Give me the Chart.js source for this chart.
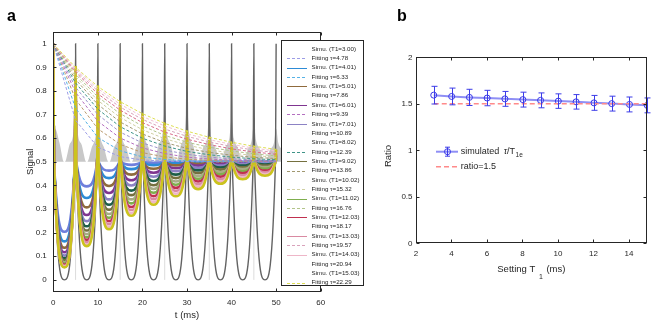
<!DOCTYPE html>
<html>
<head>
<meta charset="utf-8">
<script src="https://cdn.jsdelivr.net/npm/chart.js@4.4.0/dist/chart.umd.min.js"></script>
<style>
    html, body { margin: 0; padding: 0; background: #fff; }
    #wrap { position: relative; width: 664px; height: 335px; overflow: hidden; }
    #chartA { position: absolute; left: 0; top: 0; }
    #chartB { position: absolute; left: 370px; top: 0; }
</style>
</head>
<body>
<div id="wrap">
    <canvas id="chartA" width="370" height="335"></canvas>
    <canvas id="chartB" width="294" height="335"></canvas>
</div>
<script>
(function() {
    'use strict';

    // ---- panel a : signal vs time ----
    var t1Labels  = ['3.00', '4.01', '5.01', '6.01', '7.01', '8.02', '9.02', '10.02', '11.02', '12.03', '13.03', '14.03', '15.03'];
    var tauLabels = ['4.78', '6.33', '7.86', '9.39', '10.89', '12.39', '13.86', '15.32', '16.76', '18.17', '19.57', '20.94', '22.29'];

    // echo tops and the bottoms between them (ms)
    var peakTimes   = [0, 5, 10, 15, 20, 25, 30, 35, 40, 45, 50];
    var troughTimes = [2.5, 7.5, 12.5, 17.5, 22.5, 27.5, 32.5, 37.5, 42.5, 47.5];

    // signal at the echo tops, one row per T1
    var simuPeaks = [
        [1.000, 0.676, 0.562, 0.522, 0.508, 0.503, 0.501, 0.500, 0.500, 0.500, 0.500],
        [1.000, 0.727, 0.603, 0.547, 0.521, 0.510, 0.504, 0.502, 0.501, 0.500, 0.500],
        [1.000, 0.765, 0.640, 0.574, 0.539, 0.521, 0.511, 0.506, 0.503, 0.502, 0.501],
        [1.000, 0.794, 0.672, 0.601, 0.559, 0.535, 0.520, 0.512, 0.507, 0.504, 0.502],
        [1.000, 0.816, 0.700, 0.626, 0.580, 0.550, 0.532, 0.520, 0.513, 0.508, 0.505],
        [1.000, 0.834, 0.723, 0.649, 0.600, 0.567, 0.544, 0.530, 0.520, 0.513, 0.509],
        [1.000, 0.849, 0.743, 0.669, 0.618, 0.582, 0.557, 0.540, 0.528, 0.519, 0.514],
        [1.000, 0.861, 0.760, 0.688, 0.636, 0.598, 0.571, 0.551, 0.537, 0.527, 0.519],
        [1.000, 0.871, 0.775, 0.704, 0.652, 0.612, 0.583, 0.562, 0.546, 0.534, 0.525],
        [1.000, 0.880, 0.788, 0.719, 0.666, 0.626, 0.596, 0.573, 0.555, 0.542, 0.532],
        [1.000, 0.887, 0.800, 0.732, 0.680, 0.639, 0.608, 0.584, 0.565, 0.550, 0.539],
        [1.000, 0.894, 0.810, 0.744, 0.692, 0.652, 0.619, 0.594, 0.574, 0.558, 0.546],
        [1.000, 0.900, 0.819, 0.755, 0.704, 0.663, 0.630, 0.604, 0.583, 0.566, 0.553]
    ];

    // signal at the bottoms, one row per T1
    var simuTroughs = [
        [0.204, 0.396, 0.463, 0.487, 0.496, 0.499, 0.500, 0.500, 0.500, 0.500],
        [0.163, 0.347, 0.431, 0.469, 0.486, 0.494, 0.497, 0.499, 0.499, 0.500],
        [0.136, 0.307, 0.398, 0.446, 0.471, 0.485, 0.492, 0.496, 0.498, 0.499],
        [0.117, 0.275, 0.368, 0.422, 0.454, 0.473, 0.484, 0.491, 0.495, 0.497],
        [0.103, 0.249, 0.341, 0.400, 0.437, 0.460, 0.475, 0.484, 0.490, 0.494],
        [0.091, 0.227, 0.318, 0.378, 0.419, 0.446, 0.464, 0.476, 0.484, 0.489],
        [0.083, 0.209, 0.297, 0.359, 0.401, 0.431, 0.452, 0.467, 0.477, 0.484],
        [0.075, 0.194, 0.279, 0.341, 0.385, 0.417, 0.440, 0.457, 0.469, 0.478],
        [0.069, 0.180, 0.263, 0.324, 0.369, 0.403, 0.428, 0.447, 0.460, 0.471],
        [0.064, 0.169, 0.249, 0.309, 0.355, 0.390, 0.417, 0.437, 0.452, 0.463],
        [0.060, 0.159, 0.236, 0.296, 0.342, 0.377, 0.405, 0.426, 0.443, 0.456],
        [0.056, 0.150, 0.225, 0.283, 0.329, 0.365, 0.394, 0.416, 0.434, 0.448],
        [0.053, 0.143, 0.215, 0.272, 0.318, 0.354, 0.384, 0.407, 0.426, 0.441]
    ];

    // reference (no relaxation) curve
    var refPeaks   = [1, 1, 1, 1, 1, 1, 1, 1, 1, 1, 1];
    var refTroughs = [0, 0, 0, 0, 0, 0, 0, 0, 0, 0];

    // all curves pass the mid level this close to each echo top
    var MID_LEVEL = 0.5;
    var MID_GAP = 0.15;

    // light grey patches round the echo tops
    var grayT = [0.0, 0.4, 1.4, 2.4,
                 2.6, 3.6, 4.5, 5.0, 5.5, 6.4, 7.4,
                 7.6, 8.6, 9.5, 10.0, 10.5, 11.4, 12.4,
                 12.6, 13.6, 14.5, 15.0, 15.5, 16.4, 17.4,
                 17.6, 18.6, 19.5, 20.0, 20.5, 21.4, 22.4,
                 22.6, 23.6, 24.5, 25.0, 25.5, 26.4, 27.4,
                 27.6, 28.6, 29.5, 30.0, 30.5, 31.4, 32.4,
                 32.6, 33.6, 34.5, 35.0, 35.5, 36.4, 37.4,
                 37.6, 38.6, 39.5, 40.0, 40.5, 41.4, 42.4,
                 42.6, 43.6, 44.5, 45.0, 45.5, 46.4, 47.4,
                 47.6, 48.6, 49.5, 50.0, 50.5, 51.4, 52.4];
    var grayY = [0.50, 0.64, 0.58, 0.50,
                 0.50, 0.57, 0.62, 0.74, 0.62, 0.57, 0.50,
                 0.50, 0.56, 0.61, 0.70, 0.61, 0.56, 0.50,
                 0.50, 0.56, 0.60, 0.68, 0.60, 0.56, 0.50,
                 0.50, 0.56, 0.61, 0.70, 0.61, 0.56, 0.50,
                 0.50, 0.57, 0.62, 0.72, 0.62, 0.57, 0.50,
                 0.50, 0.57, 0.62, 0.74, 0.62, 0.57, 0.50,
                 0.50, 0.56, 0.60, 0.70, 0.60, 0.56, 0.50,
                 0.50, 0.56, 0.60, 0.68, 0.60, 0.56, 0.50,
                 0.50, 0.55, 0.59, 0.66, 0.59, 0.55, 0.50,
                 0.50, 0.55, 0.58, 0.64, 0.58, 0.55, 0.50];

    // thin light marks from the baseline
    var markTimes = [5, 15, 25, 35, 45];
    var markTop = 0.5;

    var xTicksA = [0, 10, 20, 30, 40, 50, 60];
    var xTickLabelsA = ['0', '10', '20', '30', '40', '50', '60'];
    var yTicksA = [0, 0.1, 0.2, 0.3, 0.4, 0.5, 0.6, 0.7, 0.8, 0.9, 1];
    var yTickLabelsA = ['0', '0.1', '0.2', '0.3', '0.4', '0.5', '0.6', '0.7', '0.8', '0.9', '1'];

    // legend rows that show a line sample
    var simuLegendLine = [false, true, true, true, true, false, true, false, true, true, true, true, false];
    var fitLegendLine  = [true, true, false, true, false, true, true, true, true, false, true, false, true];

    // ---- panel b : ratio vs T1 ----
    var t1Values    = [3.00, 4.01, 5.01, 6.01, 7.01, 8.02, 9.02, 10.02, 11.02, 12.03, 13.03, 14.03, 15.03];
    var ratioValues = [1.593, 1.579, 1.569, 1.562, 1.553, 1.545, 1.537, 1.529, 1.521, 1.510, 1.502, 1.493, 1.483];
    var ratioErrors = [0.095, 0.090, 0.087, 0.083, 0.080, 0.080, 0.080, 0.078, 0.078, 0.080, 0.080, 0.080, 0.080];
    var refRatioT = [3, 15];
    var refRatio  = 1.5;

    var xTicksB = [2, 4, 6, 8, 10, 12, 14];
    var xTickLabelsB = ['2', '4', '6', '8', '10', '12', '14'];
    var yTicksB = [0, 0.5, 1, 1.5, 2];
    var yTickLabelsB = ['0', '0.5', '1', '1.5', '2'];

    // ---- styles ----
    var FONT = '"Liberation Sans", Arial, Helvetica, sans-serif';
    var AXIS_COLOR = '#262626';
    var simuColors = ['#6f7fdc', '#2d8bd6', '#8f6a3c', '#7f3590', '#8c82c4', '#1d5e48', '#75703f',
                      '#a9ab86', '#7fae4e', '#c0304f', '#d98aa2', '#eeb6c8', '#cbc31e'];
    var fitColors  = ['#9c9ce6', '#56b2e6', '#b99a6e', '#b46fc0', '#9b92cc', '#3f9488', '#a19870',
                      '#cfcfa2', '#b2c48a', '#d86c8a', '#d9a2bb', '#f1c2d2', '#dede55'];

    Chart.defaults.font.family = FONT;
    Chart.defaults.color = AXIS_COLOR;

    // Build a curve: echo top, mid crossing, bottom, mid crossing, next top
    function echoCurve(peaks, troughs) {
        var pts = [];
        for (var k = 0; k < troughs.length; k++) {
            pts.push({x: peakTimes[k], y: peaks[k]});
            pts.push({x: peakTimes[k] + MID_GAP, y: MID_LEVEL});
            pts.push({x: troughTimes[k], y: troughs[k]});
            pts.push({x: peakTimes[k + 1] - MID_GAP, y: MID_LEVEL});
        }
        pts.push({x: peakTimes[peaks.length - 1], y: peaks[peaks.length - 1]});
        return pts;
    }

    function fitCurve(peaks) {
        return peaks.map(function(v, k) { return {x: peakTimes[k], y: v}; });
    }

    var datasetsA = [];

    datasetsA.push({
        label: 'patch',
        data: grayT.map(function(t, i) { return {x: t, y: grayY[i]}; }),
        borderWidth: 0,
        backgroundColor: '#c8c8c8',
        fill: {value: MID_LEVEL},
        cubicInterpolationMode: 'monotone',
        order: 100
    });

    var marks = [];
    markTimes.forEach(function(t) {
        marks.push({x: t, y: 0}, {x: t, y: markTop}, {x: t, y: null});
    });
    datasetsA.push({
        label: 'marks',
        data: marks,
        borderColor: '#dcdcdc',
        borderWidth: 1,
        fill: false,
        spanGaps: false,
        order: 90
    });

    datasetsA.push({
        label: 'reference',
        data: echoCurve(refPeaks, refTroughs),
        borderColor: '#636363',
        borderWidth: 1.4,
        fill: false,
        cubicInterpolationMode: 'monotone',
        order: 70
    });

    simuPeaks.forEach(function(peaks, i) {
        datasetsA.push({
            label: 'Simu. (T1=' + t1Labels[i] + ')',
            data: echoCurve(peaks, simuTroughs[i]),
            borderColor: simuColors[i],
            borderWidth: 2.6,
            fill: false,
            cubicInterpolationMode: 'monotone',
            legendLine: simuLegendLine[i],
            kind: 'simu',
            order: 60 - i
        });
        datasetsA.push({
            label: 'Fitting \u03c4=' + tauLabels[i],
            data: fitCurve(peaks),
            borderColor: fitColors[i],
            borderWidth: 1,
            borderDash: [3, 2],
            fill: false,
            tension: 0,
            legendLine: fitLegendLine[i],
            kind: 'fit',
            order: 30 - i
        });
    });

    // Box with inward ticks on all four sides
    function drawFrame(chart, tickLen) {
        var ctx = chart.ctx;
        var a = chart.chartArea;
        var l = Math.round(a.left) + 0.5, r = Math.round(a.right) - 0.5;
        var t = Math.round(a.top) + 0.5, b = Math.round(a.bottom) - 0.5;

        ctx.save();
        ctx.strokeStyle = AXIS_COLOR;
        ctx.lineWidth = 1;
        ctx.strokeRect(l, t, r - l, b - t);
        ctx.beginPath();
        chart.scales.x.ticks.forEach(function(tk) {
            var px = Math.round(chart.scales.x.getPixelForValue(tk.value)) + 0.5;
            ctx.moveTo(px, b); ctx.lineTo(px, b - tickLen);
            ctx.moveTo(px, t); ctx.lineTo(px, t + tickLen);
        });
        chart.scales.y.ticks.forEach(function(tk) {
            var py = Math.round(chart.scales.y.getPixelForValue(tk.value)) + 0.5;
            ctx.moveTo(l, py); ctx.lineTo(l + tickLen, py);
            ctx.moveTo(r, py); ctx.lineTo(r - tickLen, py);
        });
        ctx.stroke();
        ctx.restore();
    }

    function drawPanelLabel(ctx, text, x, y) {
        ctx.save();
        ctx.fillStyle = '#000';
        ctx.font = 'bold 16px ' + FONT;
        ctx.textBaseline = 'alphabetic';
        ctx.fillText(text, x, y);
        ctx.restore();
    }

    // MATLAB style legend box, overlapping the right edge of the axes
    function drawLegendA(chart) {
        var ctx = chart.ctx;
        var rows = chart.data.datasets.filter(function(ds) { return ds.kind; });
        var boxX = 281.5, boxY = 40.5, boxW = 82, boxH = 245;
        var firstRow = 49, rowStep = 9.35;

        ctx.save();
        ctx.fillStyle = '#fff';
        ctx.fillRect(boxX, boxY, boxW, boxH);
        ctx.strokeStyle = AXIS_COLOR;
        ctx.lineWidth = 1;
        ctx.strokeRect(boxX, boxY, boxW, boxH);

        ctx.font = '6.2px ' + FONT;
        ctx.textBaseline = 'middle';
        rows.forEach(function(ds, i) {
            var y = firstRow + i * rowStep;
            if (ds.legendLine) {
                ctx.strokeStyle = ds.borderColor;
                ctx.lineWidth = 1;
                ctx.setLineDash(ds.kind === 'fit' ? [3, 2] : []);
                ctx.beginPath();
                ctx.moveTo(287, Math.round(y) + 0.5);
                ctx.lineTo(307, Math.round(y) + 0.5);
                ctx.stroke();
            }
            ctx.setLineDash([]);
            ctx.fillStyle = AXIS_COLOR;
            ctx.fillText(ds.label, 311.5, y);
        });
        ctx.restore();
    }

    var framePluginA = {
        id: 'framePluginA',
        afterDraw: function(chart) {
            drawFrame(chart, 3);
            drawLegendA(chart);
            drawPanelLabel(chart.ctx, 'a', 7, 21);
        }
    };

    new Chart(document.getElementById('chartA'), {
        type: 'line',
        data: {datasets: datasetsA},
        options: {
            responsive: false,
            animation: false,
            devicePixelRatio: 1,
            layout: {padding: {left: 0, top: 32, right: 49.3, bottom: 0}},
            plugins: {legend: {display: false}, tooltip: {enabled: false}},
            elements: {point: {radius: 0}},
            scales: {
                x: {
                    type: 'linear', min: 0, max: 60,
                    border: {display: false},
                    grid: {display: false, drawTicks: false},
                    afterBuildTicks: function(s) { s.ticks = xTicksA.map(function(v) { return {value: v}; }); },
                    afterFit: function(s) { s.height = 43.3; },
                    ticks: {
                        padding: 6, font: {size: 8}, maxRotation: 0, autoSkip: false,
                        callback: function(v, i) { return xTickLabelsA[i]; }
                    },
                    title: {display: true, text: 't (ms)', font: {size: 9.5}, padding: {top: 0, bottom: 14.3}}
                },
                y: {
                    type: 'linear', min: -0.05, max: 1.05,
                    border: {display: false},
                    grid: {display: false, drawTicks: false},
                    afterBuildTicks: function(s) { s.ticks = yTicksA.map(function(v) { return {value: v}; }); },
                    afterFit: function(s) { s.width = 53.3; },
                    ticks: {
                        padding: 6.5, font: {size: 8}, autoSkip: false,
                        callback: function(v, i) { return yTickLabelsA[i]; }
                    },
                    title: {display: true, text: 'Signal', font: {size: 9.5}, padding: {top: 24.3, bottom: 0}}
                }
            }
        },
        plugins: [framePluginA]
    });

    // ---- panel b ----
    var ratioStyle = {line: '#8f8ff5', marker: '#3535e8', error: '#3c3ce8', ref: '#ff8a8a'};

    function drawErrorBars(chart) {
        var ctx = chart.ctx;
        var xs = chart.scales.x, ys = chart.scales.y;
        ctx.save();
        ctx.strokeStyle = ratioStyle.error;
        ctx.lineWidth = 1;
        ctx.beginPath();
        t1Values.forEach(function(t, i) {
            var px = Math.round(xs.getPixelForValue(t)) + 0.5;
            var top = ys.getPixelForValue(ratioValues[i] + ratioErrors[i]);
            var bot = ys.getPixelForValue(ratioValues[i] - ratioErrors[i]);
            ctx.moveTo(px, top); ctx.lineTo(px, bot);
            ctx.moveTo(px - 3, top); ctx.lineTo(px + 3, top);
            ctx.moveTo(px - 3, bot); ctx.lineTo(px + 3, bot);
        });
        ctx.stroke();
        ctx.restore();
    }

    function drawLegendB(chart) {
        var ctx = chart.ctx;
        var x0 = 66, x1 = 88, xm = 77, textX = 90.7;
        var y1 = 151.7, y2 = 166.7;

        ctx.save();
        // row 1: line, error bar and circle
        ctx.strokeStyle = ratioStyle.line;
        ctx.lineWidth = 2;
        ctx.beginPath(); ctx.moveTo(x0, y1); ctx.lineTo(x1, y1); ctx.stroke();
        ctx.strokeStyle = ratioStyle.error;
        ctx.lineWidth = 1;
        ctx.beginPath();
        ctx.moveTo(xm + 0.5, y1 - 4.5); ctx.lineTo(xm + 0.5, y1 + 4.5);
        ctx.moveTo(xm - 2, y1 - 4.5); ctx.lineTo(xm + 3, y1 - 4.5);
        ctx.moveTo(xm - 2, y1 + 4.5); ctx.lineTo(xm + 3, y1 + 4.5);
        ctx.stroke();
        ctx.strokeStyle = ratioStyle.marker;
        ctx.beginPath(); ctx.arc(xm + 0.5, y1, 3, 0, Math.PI * 2); ctx.stroke();

        ctx.fillStyle = AXIS_COLOR;
        ctx.textBaseline = 'middle';
        var x = textX;
        ctx.font = '9px ' + FONT;
        ctx.fillText('simulated ', x, y1);
        x += ctx.measureText('simulated ').width + 2;
        ctx.font = 'italic 9px ' + FONT;
        ctx.fillText('\u03c4', x, y1);
        x += ctx.measureText('\u03c4').width;
        ctx.font = '9px ' + FONT;
        ctx.fillText('/T', x, y1);
        x += ctx.measureText('/T').width + 0.5;
        ctx.font = '6.5px ' + FONT;
        ctx.fillText('1e', x, y1 + 4);

        // row 2: dashed reference
        ctx.strokeStyle = ratioStyle.ref;
        ctx.lineWidth = 1.5;
        ctx.setLineDash([5, 3]);
        ctx.beginPath(); ctx.moveTo(x0, y2); ctx.lineTo(x1, y2); ctx.stroke();
        ctx.setLineDash([]);
        ctx.font = '9px ' + FONT;
        ctx.fillText('ratio=1.5', textX, y2);
        ctx.restore();
    }

    function drawTitlesB(chart) {
        var ctx = chart.ctx;
        var a = chart.chartArea;
        ctx.save();
        ctx.fillStyle = AXIS_COLOR;
        ctx.textBaseline = 'alphabetic';

        var big = '9.5px ' + FONT, small = '7px ' + FONT;
        ctx.font = big;
        var w1 = ctx.measureText('Setting T ').width;
        var w3 = ctx.measureText(' (ms)').width;
        ctx.font = small;
        var w2 = ctx.measureText('1').width + 2;
        var x = (a.left + a.right) / 2 - (w1 + w2 + w3) / 2;
        ctx.font = big;
        ctx.fillText('Setting T ', x, 272);
        ctx.font = small;
        ctx.fillText('1', x + w1 + 1, 279);
        ctx.font = big;
        ctx.fillText(' (ms)', x + w1 + w2, 272);

        ctx.translate(18, 156);
        ctx.rotate(-Math.PI / 2);
        ctx.textAlign = 'center';
        ctx.textBaseline = 'middle';
        ctx.font = big;
        ctx.fillText('Ratio', 0, 0);
        ctx.restore();
    }

    var framePluginB = {
        id: 'framePluginB',
        afterDatasetsDraw: function(chart) {
            drawErrorBars(chart);
        },
        afterDraw: function(chart) {
            drawFrame(chart, 3);
            drawLegendB(chart);
            drawTitlesB(chart);
            drawPanelLabel(chart.ctx, 'b', 27, 21);
        }
    };

    new Chart(document.getElementById('chartB'), {
        type: 'line',
        data: {
            datasets: [{
                label: 'simulated \u03c4/T1e',
                data: t1Values.map(function(t, i) { return {x: t, y: ratioValues[i]}; }),
                borderColor: ratioStyle.line,
                borderWidth: 2,
                pointRadius: 3,
                pointBorderWidth: 1,
                pointBorderColor: ratioStyle.marker,
                pointBackgroundColor: 'rgba(0,0,0,0)',
                fill: false,
                tension: 0,
                order: 2
            }, {
                label: 'ratio=1.5',
                data: refRatioT.map(function(t) { return {x: t, y: refRatio}; }),
                borderColor: ratioStyle.ref,
                borderWidth: 1.5,
                borderDash: [5, 3],
                pointRadius: 0,
                fill: false,
                order: 1
            }]
        },
        options: {
            responsive: false,
            animation: false,
            devicePixelRatio: 1,
            layout: {padding: {left: 0, top: 57.3, right: 17.3, bottom: 51.7}},
            plugins: {legend: {display: false}, tooltip: {enabled: false}},
            scales: {
                x: {
                    type: 'linear', min: 2, max: 15,
                    border: {display: false},
                    grid: {display: false, drawTicks: false},
                    afterBuildTicks: function(s) { s.ticks = xTicksB.map(function(v) { return {value: v}; }); },
                    afterFit: function(s) { s.height = 40; },
                    ticks: {
                        padding: 5.5, font: {size: 8}, maxRotation: 0, autoSkip: false,
                        callback: function(v, i) { return xTickLabelsB[i]; }
                    }
                },
                y: {
                    type: 'linear', min: 0, max: 2,
                    border: {display: false},
                    grid: {display: false, drawTicks: false},
                    afterBuildTicks: function(s) { s.ticks = yTicksB.map(function(v) { return {value: v}; }); },
                    afterFit: function(s) { s.width = 46; },
                    ticks: {
                        padding: 3.5, font: {size: 8}, autoSkip: false,
                        callback: function(v, i) { return yTickLabelsB[i]; }
                    }
                }
            }
        },
        plugins: [framePluginB]
    });
})();
</script>
</body>
</html>
